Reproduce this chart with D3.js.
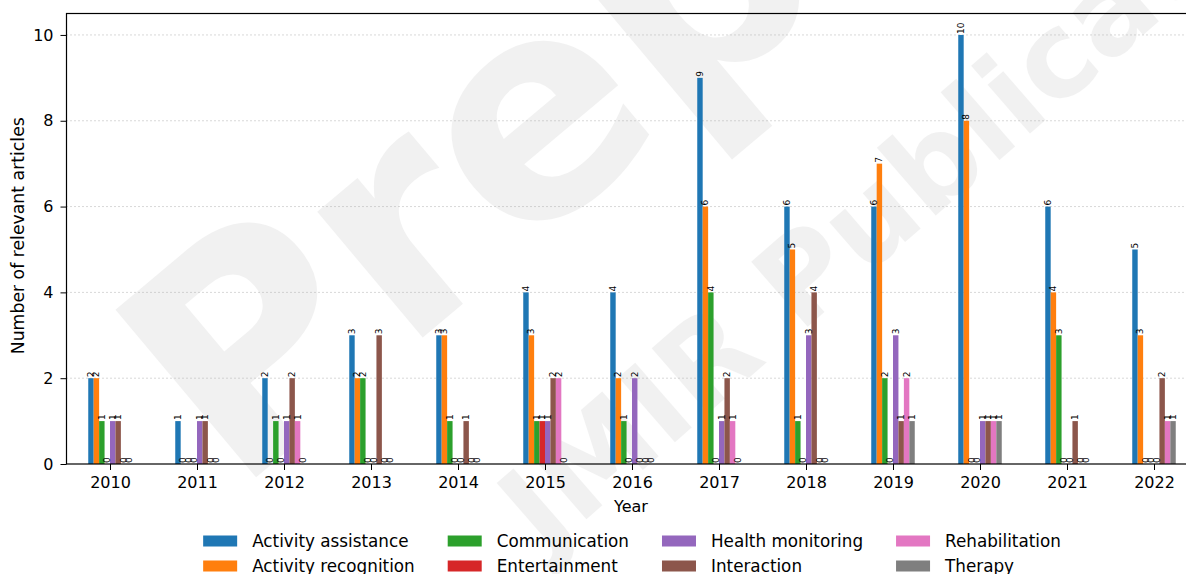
<!DOCTYPE html>
<html><head><meta charset="utf-8">
<script src="https://cdn.jsdelivr.net/npm/d3@7"></script>
<style>
body{margin:0;background:#fff;}
svg{display:block;font-family:"DejaVu Sans",sans-serif;}
</style></head>
<body>
<svg id="chart" width="1186" height="574"></svg>
<script>
const years = ["2010","2011","2012","2013","2014","2015","2016","2017","2018","2019","2020","2021","2022"];
const seriesNames = ["Activity assistance","Activity recognition","Communication","Entertainment","Health monitoring","Interaction","Rehabilitation","Therapy"];
const seriesColors = ["#1f77b4","#ff7f0e","#2ca02c","#d62728","#9467bd","#8c564b","#e377c2","#7f7f7f"];
const activityAssistance  = [2,1,2,3,3,4,4,9,6,6,10,6,5];
const activityRecognition = [2,0,0,2,3,3,2,6,5,7,8,4,3];
const communication       = [1,0,1,2,1,1,1,4,1,2,0,3,0];
const entertainment       = [0,0,0,0,0,1,0,0,0,0,0,0,0];
const healthMonitoring    = [1,1,1,0,0,1,2,1,3,3,1,0,0];
const interaction         = [1,1,2,3,1,2,0,2,4,1,1,1,2];
const rehabilitation      = [0,0,1,0,0,2,0,1,0,2,1,0,1];
const therapy             = [0,0,0,0,0,0,0,0,0,1,1,0,1];
const yTicks = [0,2,4,6,8,10];

const seriesValues = [activityAssistance,activityRecognition,communication,entertainment,healthMonitoring,interaction,rehabilitation,therapy];

(function(){
const svg = d3.select("#chart");

// watermark
const wm = svg.append("g").attr("fill","#000").attr("opacity",0.05).attr("font-weight","bold");
wm.append("text").attr("transform","translate(235,495) rotate(-40)").attr("font-size",300).text("Preprint");
wm.append("text").attr("transform","translate(545,555) rotate(-41)").attr("font-size",118).text("JMIR Publications");

const xPos = d3.scalePoint().domain(years).range([110,1154]);
const y = d3.scaleLinear().domain([0,10.5]).range([464,13.5]);
const barW = 87*0.5/8;
const xInner = d3.scaleBand().domain(seriesNames).range([-barW*4, barW*4]).padding(0);

const pLeft = 66.5, pRight = 1197.5, pTop = y(10.5), pBottom = y(0);

// gridlines
svg.append("g").selectAll("line").data(yTicks.filter(d=>d>0)).join("line")
  .attr("x1",pLeft).attr("x2",pRight).attr("y1",d=>y(d)).attr("y2",d=>y(d))
  .attr("stroke","#b0b0b0").attr("stroke-width",1).attr("stroke-dasharray","1,3");

// bars
const groups = svg.append("g").selectAll("g").data(years).join("g")
  .attr("transform", d=>`translate(${xPos(d)},0)`);
groups.each(function(yr, i){
  const g = d3.select(this);
  seriesNames.forEach((s, k) => {
    const v = seriesValues[k][i];
    g.append("rect").attr("x", xInner(s)).attr("width", barW)
      .attr("y", y(v)).attr("height", y(0)-y(v)).attr("fill", seriesColors[k]);
  });
  seriesNames.forEach((s, k) => {
    const v = seriesValues[k][i];
    const cx = xInner(s) + barW/2;
    g.append("text").attr("transform", `translate(${cx},${y(v)-1}) rotate(-90)`)
      .attr("text-anchor","start").attr("dominant-baseline","central")
      .attr("font-size",9).attr("fill","#000").text(v);
  });
});

// axes
const gx = svg.append("g").attr("transform",`translate(0,${pBottom})`).call(d3.axisBottom(xPos).tickSize(6).tickPadding(7));
gx.select(".domain").remove();
gx.selectAll("text").attr("font-size",16).attr("font-family","DejaVu Sans").attr("fill","#000");
gx.selectAll("line").attr("stroke","#000");

const gy = svg.append("g").attr("transform",`translate(${pLeft},0)`).call(d3.axisLeft(y).tickValues(yTicks).tickSize(6).tickPadding(7));
gy.select(".domain").remove();
gy.selectAll("text").attr("font-size",16).attr("font-family","DejaVu Sans").attr("fill","#000");
gy.selectAll("line").attr("stroke","#000");

// spines
svg.append("rect").attr("x",pLeft).attr("y",pTop).attr("width",pRight-pLeft).attr("height",pBottom-pTop)
  .attr("fill","none").attr("stroke","#000").attr("stroke-width",1.2);

// axis labels
svg.append("text").attr("x",(pLeft+pRight)/2 - 1).attr("y",512).attr("text-anchor","middle")
  .attr("font-size",16).text("Year");
svg.append("text").attr("transform",`translate(24,${(pTop+pBottom)/2 - 3}) rotate(-90)`).attr("text-anchor","middle")
  .attr("font-size",17.3).text("Number of relevant articles");

// legend: 4 columns, column-major
const leg = svg.append("g");
const legFont = 16.8;
const patchW = 34, patchH = 11, textGap = 15, colGap = 33;
const rowsY = [541, 566];
const nCols = 4;
const cols = [];
for (let c=0;c<nCols;c++) cols.push([seriesNames[c*2], seriesNames[c*2+1]]);
const meas = svg.append("text").attr("font-size",legFont);
const colW = cols.map(col => d3.max(col, n => { meas.text(n); return meas.node().getComputedTextLength(); }));
meas.remove();
const totalW = d3.sum(colW) + nCols*(patchW+textGap) + (nCols-1)*colGap;
let lx = (pLeft+pRight)/2 - totalW/2;
cols.forEach((col, c) => {
  col.forEach((name, r) => {
    const k = seriesNames.indexOf(name);
    leg.append("rect").attr("x",lx).attr("y",rowsY[r]-patchH/2).attr("width",patchW).attr("height",patchH)
      .attr("fill",seriesColors[k]);
    leg.append("text").attr("x",lx+patchW+textGap).attr("y",rowsY[r]).attr("dominant-baseline","central")
      .attr("font-size",legFont).text(name);
  });
  lx += patchW + textGap + colW[c] + colGap;
});
})();
</script>
</body></html>
